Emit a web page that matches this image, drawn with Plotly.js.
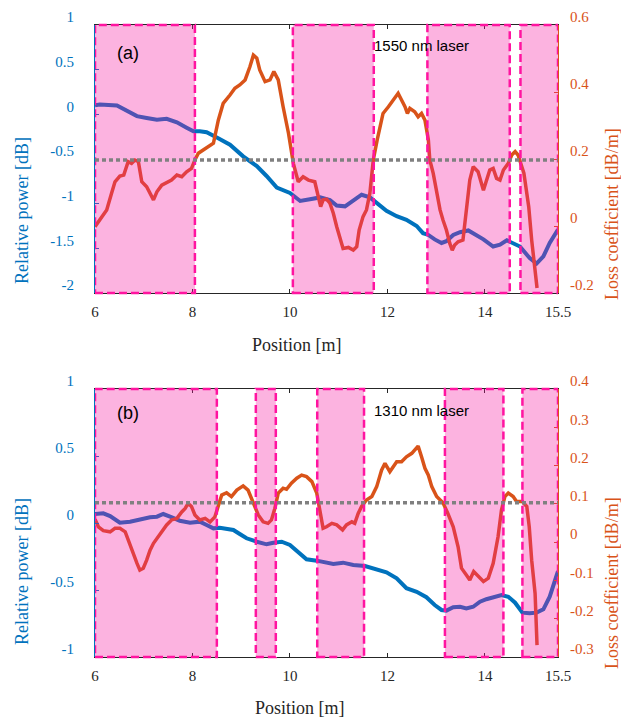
<!DOCTYPE html>
<html>
<head>
<meta charset="utf-8">
<script src="https://cdn.plot.ly/plotly-3.0.1.min.js"></script>
<style>html,body{margin:0;padding:0;background:#fff;}#chart{width:621px;height:717px;}</style>
</head>
<body>
<div id="chart"></div>
<script>
// ---------- Panel (a): 1550 nm laser ----------
const posA_power = [6.00,6.10,6.45,6.65,6.86,7.06,7.27,7.47,7.68,7.88,
  8.02,8.15,8.29,8.50,8.77,9.04,9.32,9.52,9.73,10.00,
  10.21,10.41,10.62,10.82,10.96,11.13,11.30,11.47,11.64,11.85,
  11.98,12.19,12.39,12.60,12.73,12.84,12.97,13.11,13.21,13.35,
  13.49,13.66,13.76,13.97,14.17,14.31,14.45,14.55,14.72,14.92,
  15.06,15.20,15.33,15.50];
const powerA = [0.10,0.11,0.10,0.04,-0.02,-0.04,-0.06,-0.05,-0.09,-0.15,
  -0.19,-0.19,-0.20,-0.26,-0.34,-0.47,-0.58,-0.69,-0.82,-0.88,
  -0.97,-0.95,-0.93,-0.96,-1.02,-1.03,-0.96,-0.90,-0.93,-1.03,
  -1.08,-1.14,-1.18,-1.25,-1.33,-1.35,-1.40,-1.44,-1.42,-1.35,
  -1.32,-1.30,-1.33,-1.40,-1.48,-1.46,-1.41,-1.44,-1.48,-1.61,
  -1.67,-1.59,-1.44,-1.29];

const posA_loss = [6.00,6.10,6.24,6.34,6.41,6.51,6.59,6.68,6.75,6.82,
  6.89,6.96,7.06,7.20,7.27,7.37,7.47,7.57,7.68,7.78,
  7.88,7.98,8.05,8.12,8.22,8.32,8.43,8.53,8.63,8.77,
  8.87,8.97,9.08,9.18,9.25,9.32,9.38,9.49,9.59,9.67,
  9.76,9.86,9.97,10.07,10.17,10.27,10.38,10.51,10.58,10.63,
  10.68,10.75,10.82,10.89,10.96,11.03,11.09,11.20,11.30,11.37,
  11.42,11.50,11.57,11.64,11.71,11.79,11.85,11.91,12.02,12.12,
  12.22,12.29,12.36,12.41,12.46,12.56,12.63,12.70,12.77,12.84,
  12.87,12.94,13.01,13.08,13.14,13.21,13.28,13.33,13.38,13.45,
  13.55,13.62,13.69,13.76,13.86,13.97,14.03,14.10,14.17,14.24,
  14.31,14.38,14.48,14.55,14.62,14.68,14.80,14.90,14.96,15.07];
const lossA = [-0.002,0.018,0.048,0.098,0.132,0.149,0.152,0.192,0.187,0.197,
  0.192,0.132,0.117,0.078,0.102,0.122,0.129,0.137,0.152,0.147,
  0.162,0.172,0.197,0.217,0.227,0.237,0.247,0.316,0.366,0.391,
  0.411,0.421,0.436,0.476,0.510,0.501,0.466,0.431,0.436,0.461,
  0.436,0.356,0.277,0.187,0.132,0.147,0.137,0.132,0.087,0.058,
  0.078,0.080,0.068,0.038,-0.002,-0.042,-0.067,-0.064,-0.072,-0.062,
  -0.012,0.028,0.048,0.098,0.197,0.257,0.296,0.336,0.356,0.376,
  0.396,0.376,0.356,0.336,0.351,0.341,0.326,0.336,0.316,0.257,
  0.197,0.157,0.098,0.048,0.018,-0.012,-0.052,-0.072,-0.057,-0.047,
  -0.042,0.038,0.137,0.177,0.162,0.107,0.137,0.167,0.172,0.142,
  0.137,0.167,0.187,0.212,0.222,0.212,0.158,0.057,-0.042,-0.185];

const regionStartA = [6.00, 10.06, 12.82, 14.73];
const regionEndA   = [8.05, 11.72, 14.51, 15.50];
const thresholdA = 0.197;

// ---------- Panel (b): 1310 nm laser ----------
const posB_power = [6.00,6.17,6.31,6.51,6.72,6.92,7.13,7.27,7.40,7.54,
  7.74,7.95,8.15,8.29,8.43,8.56,8.70,8.84,8.97,9.11,
  9.32,9.52,9.66,9.83,10.00,10.17,10.34,10.55,10.75,10.89,
  11.09,11.30,11.54,11.78,11.98,12.19,12.39,12.60,12.80,12.97,
  13.11,13.21,13.35,13.49,13.62,13.76,13.90,14.03,14.17,14.34,
  14.48,14.62,14.77,14.92,15.06,15.20,15.33,15.40,15.50];
const powerB = [0.067,0.072,0.052,0.002,0.010,0.028,0.043,0.047,0.067,0.047,
  0.017,0.002,0.010,-0.015,-0.040,-0.035,-0.040,-0.052,-0.082,-0.114,
  -0.140,-0.159,-0.147,-0.140,-0.164,-0.222,-0.271,-0.281,-0.293,-0.306,
  -0.296,-0.313,-0.321,-0.346,-0.368,-0.413,-0.487,-0.513,-0.554,-0.612,
  -0.649,-0.654,-0.629,-0.625,-0.637,-0.625,-0.587,-0.569,-0.554,-0.537,
  -0.550,-0.595,-0.669,-0.674,-0.669,-0.644,-0.550,-0.475,-0.360];

const posB_loss = [6.00,6.07,6.17,6.31,6.41,6.51,6.62,6.68,6.75,6.86,
  6.92,6.99,7.06,7.13,7.20,7.30,7.40,7.47,7.57,7.68,
  7.78,7.85,7.91,7.98,8.05,8.15,8.26,8.36,8.46,8.53,
  8.60,8.70,8.80,8.91,9.04,9.14,9.25,9.35,9.45,9.55,
  9.62,9.69,9.76,9.86,9.93,10.03,10.14,10.24,10.34,10.45,
  10.55,10.62,10.68,10.75,10.86,10.96,11.08,11.16,11.27,11.33,
  11.40,11.47,11.57,11.68,11.78,11.88,11.95,12.05,12.12,12.19,
  12.29,12.39,12.50,12.56,12.63,12.70,12.77,12.84,12.91,13.01,
  13.14,13.24,13.35,13.45,13.52,13.62,13.69,13.77,13.86,13.97,
  14.07,14.17,14.27,14.34,14.41,14.48,14.58,14.65,14.77,14.86,
  14.91,14.96,15.03,15.07];
const lossB = [0.060,0.040,0.030,0.027,0.036,0.036,0.027,0.006,-0.021,-0.055,
  -0.073,-0.068,-0.047,-0.021,-0.003,0.014,0.032,0.045,0.058,0.062,
  0.079,0.088,0.101,0.093,0.071,0.058,0.062,0.053,0.066,0.093,
  0.123,0.129,0.119,0.136,0.147,0.136,0.101,0.071,0.053,0.049,
  0.058,0.088,0.128,0.141,0.138,0.154,0.167,0.175,0.171,0.158,
  0.128,0.075,0.036,0.040,0.049,0.045,0.032,0.045,0.053,0.049,
  0.075,0.093,0.110,0.119,0.145,0.188,0.206,0.184,0.197,0.210,
  0.210,0.223,0.232,0.241,0.251,0.223,0.193,0.175,0.145,0.119,
  0.103,0.075,0.040,-0.012,-0.068,-0.086,-0.099,-0.077,-0.090,-0.103,
  -0.094,-0.055,0.014,0.084,0.119,0.128,0.119,0.106,0.106,0.093,
  0.040,-0.047,-0.134,-0.269];

const regionStartB = [6.00, 9.30, 10.56, 13.18, 14.77];
const regionEndB   = [8.50, 9.71, 11.52, 14.38, 15.50];
const thresholdB = 0.103;

// ---------- Axis ticks / labels ----------
const xTicks = [6, 8, 10, 12, 14, 15.5];
const xTickText = ['6', '8', '10', '12', '14', '15.5'];
const powerTicksA = [-2, -1.5, -1, -0.5, 0, 0.5, 1];
const powerTextA = ['-2', '-1.5', '-1', '-0.5', '0', '0.5', '1'];
const lossTicksA = [-0.2, 0, 0.2, 0.4, 0.6];
const lossTextA = ['-0.2', '0', '0.2', '0.4', '0.6'];
const powerTicksB = [-1, -0.5, 0, 0.5, 1];
const powerTextB = ['-1', '-0.5', '0', '0.5', '1'];
const lossTicksB = [-0.3, -0.2, -0.1, 0, 0.1, 0.2, 0.3, 0.4];
const lossTextB = ['-0.3', '-0.2', '-0.1', '0', '0.1', '0.2', '0.3', '0.4'];

const panelLabels = ['(a)', '(b)'];
const laserLabels = ['1550 nm laser', '1310 nm laser'];
const xTitle = 'Position [m]';
const yLeftTitle = 'Relative power [dB]';
const yRightTitle = 'Loss coefficient [dB/m]';

// ---------- Styling ----------
const BLUE = '#0072BD', ORANGE = '#D95319', DARK = '#262626';
const SERIF = '"Liberation Serif", "Times New Roman", Times, "DejaVu Serif", serif';
const SANS = '"Liberation Sans", Arial, sans-serif';
const PINK_FILL = 'rgba(245,20,160,0.32)';
const PINK_LINE = '#FF14A0';

const traces = [
  {x: posA_power, y: powerA, xaxis: 'x', yaxis: 'y', mode: 'lines', line: {color: BLUE, width: 4}, hoverinfo: 'skip'},
  {x: posA_loss, y: lossA, xaxis: 'x', yaxis: 'y2', mode: 'lines', line: {color: ORANGE, width: 3.5}, hoverinfo: 'skip'},
  {x: posB_power, y: powerB, xaxis: 'x2', yaxis: 'y3', mode: 'lines', line: {color: BLUE, width: 4}, hoverinfo: 'skip'},
  {x: posB_loss, y: lossB, xaxis: 'x2', yaxis: 'y4', mode: 'lines', line: {color: ORANGE, width: 3.5}, hoverinfo: 'skip'}
];

const shapes = [];
function addRegions(starts, ends, xref, yref) {
  for (let i = 0; i < starts.length; i++) {
    shapes.push({type: 'rect', xref: xref, yref: yref + ' domain', x0: starts[i], x1: ends[i], y0: 0, y1: 1,
      fillcolor: PINK_FILL, line: {color: PINK_LINE, width: 2.5, dash: '8px,4px'}, layer: 'above'});
  }
}
addRegions(regionStartA, regionEndA, 'x', 'y');
addRegions(regionStartB, regionEndB, 'x2', 'y3');
shapes.push({type: 'line', xref: 'x domain', yref: 'y2', x0: 0, x1: 1, y0: thresholdA, y1: thresholdA,
  line: {color: '#808080', width: 3.5, dash: '4px,3px'}, layer: 'above'});
shapes.push({type: 'line', xref: 'x2 domain', yref: 'y4', x0: 0, x1: 1, y0: thresholdB, y1: thresholdB,
  line: {color: '#808080', width: 3.5, dash: '4px,3px'}, layer: 'above'});

function xAxis(anchor) {
  return {anchor: anchor, domain: [0, 1], range: [6, 15.5], tickvals: xTicks, ticktext: xTickText,
    ticks: 'inside', ticklen: 4, tickcolor: DARK, showline: true, linecolor: DARK, linewidth: 1, mirror: 'ticks',
    showgrid: false, zeroline: false, ticklabelstandoff: 5,
    tickfont: {family: SERIF, size: 15, color: DARK}};
}
function yLeft(domain, range, vals, text) {
  return {domain: domain, range: range, tickvals: vals, ticktext: text, side: 'left',
    ticks: 'inside', ticklen: 4, tickcolor: BLUE, showline: true, linecolor: BLUE, linewidth: 1,
    showgrid: false, zeroline: false, ticklabelstandoff: 17, ticklabelshift: -8,
    tickfont: {family: SERIF, size: 15, color: BLUE}};
}
function yRight(overlay, anchor, range, vals, text) {
  return {overlaying: overlay, anchor: anchor, side: 'right', range: range, tickvals: vals, ticktext: text,
    ticks: 'inside', ticklen: 4, tickcolor: ORANGE, showline: true, linecolor: ORANGE, linewidth: 1,
    showgrid: false, zeroline: false, ticklabelstandoff: 8, ticklabelshift: -8,
    tickfont: {family: SERIF, size: 15, color: ORANGE}};
}

const L = 95, R = 558, T = 25, B = 657;
function px2x(p) { return (p - L) / (R - L); }
function px2y(p) { return (B - p) / (B - T); }

const annotations = [
  {text: panelLabels[0], x: px2x(128), y: px2y(53), font: {family: SANS, size: 18, color: '#000'}},
  {text: panelLabels[1], x: px2x(128), y: px2y(413), font: {family: SANS, size: 18, color: '#000'}},
  {text: laserLabels[0], x: px2x(421), y: px2y(46), font: {family: SANS, size: 15, color: '#000'}},
  {text: laserLabels[1], x: px2x(421), y: px2y(410), font: {family: SANS, size: 15, color: '#000'}},
  {text: xTitle, x: px2x(297), y: px2y(345), font: {family: SERIF, size: 18, color: DARK}},
  {text: xTitle, x: px2x(300), y: px2y(708), font: {family: SERIF, size: 18, color: DARK}},
  {text: yLeftTitle, x: px2x(22), y: px2y(211), textangle: -90, font: {family: SERIF, size: 18, color: BLUE}},
  {text: yLeftTitle, x: px2x(22), y: px2y(572), textangle: -90, font: {family: SERIF, size: 18, color: BLUE}},
  {text: yRightTitle, x: px2x(612), y: px2y(214), textangle: -90, font: {family: SERIF, size: 18, color: ORANGE}},
  {text: yRightTitle, x: px2x(612), y: px2y(583), textangle: -90, font: {family: SERIF, size: 18, color: ORANGE}}
].map(a => Object.assign({xref: 'paper', yref: 'paper', showarrow: false, xanchor: 'center', yanchor: 'middle'}, a));

const layout = {
  width: 621, height: 717,
  margin: {l: L, r: 621 - R, t: T, b: 717 - B, pad: 0},
  paper_bgcolor: '#fff', plot_bgcolor: '#fff',
  showlegend: false,
  font: {family: SERIF},
  xaxis: xAxis('y'),
  yaxis: Object.assign(yLeft([px2y(293), 1], [-2, 1], powerTicksA, powerTextA), {anchor: 'x'}),
  yaxis2: yRight('y', 'x', [-0.2, 0.6], lossTicksA, lossTextA),
  xaxis2: xAxis('y3'),
  yaxis3: Object.assign(yLeft([0, px2y(389)], [-1, 1], powerTicksB, powerTextB), {anchor: 'x2'}),
  yaxis4: yRight('y3', 'x2', [-0.3, 0.4], lossTicksB, lossTextB),
  shapes: shapes,
  annotations: annotations
};

Plotly.newPlot('chart', traces, layout, {displayModeBar: false, staticPlot: true});
</script>
</body>
</html>
